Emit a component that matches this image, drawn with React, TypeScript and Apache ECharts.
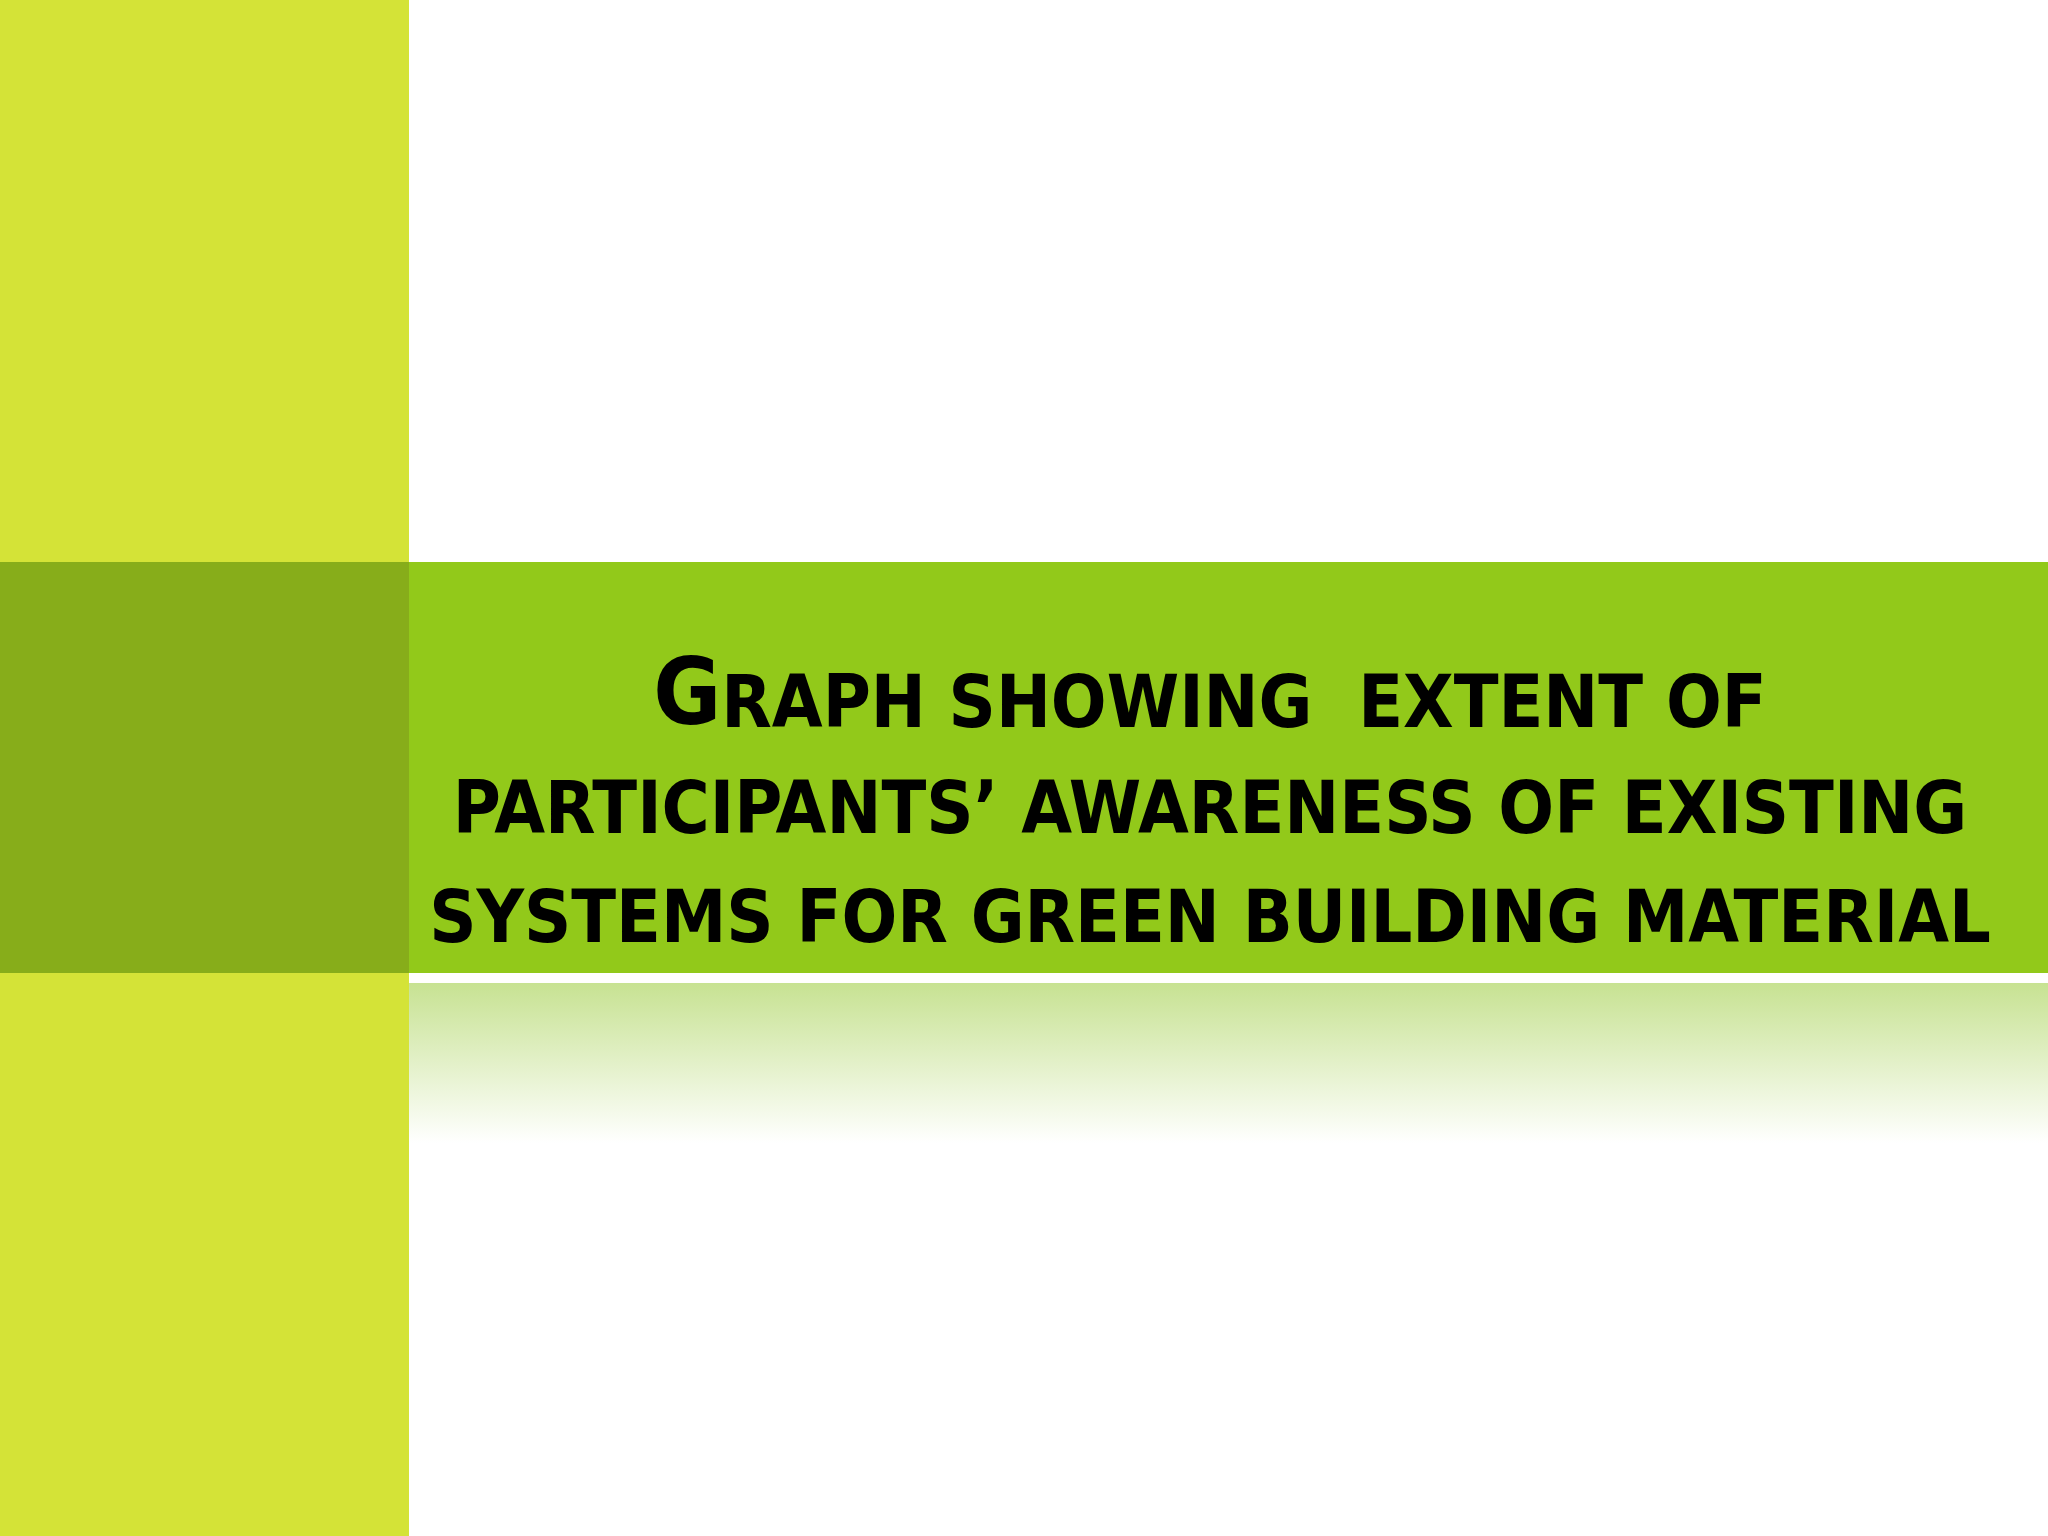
import React, { useEffect, useRef } from 'react';
import * as echarts from 'echarts';

// title lines (small caps in the slide, drawn as capitals)
const titleInitial = 'G';
const titleLines = [
  'RAPH SHOWING  EXTENT OF',
  'PARTICIPANTS\u2019 AWARENESS OF EXISTING',
  'SYSTEMS FOR GREEN BUILDING MATERIAL',
];
const lineBaselines = [718, 833, 942];

const FONT = '"DejaVu Sans Condensed", "DejaVu Sans", sans-serif';
const SMALL = 73;
const BIG = 92;

const App: React.FC = () => {
  const chartRef = useRef<HTMLDivElement>(null);

  useEffect(() => {
    const chart = echarts.init(chartRef.current, null, { renderer: 'svg' });

    const textCenter = 1210;

    const titleText = titleLines.map((line, i) => {
      if (i === 0) {
        return {
          type: 'text',
          x: textCenter,
          y: lineBaselines[i] - 0.35 * SMALL,
          style: {
            text: `{g|${titleInitial}}{s|${line}}`,
            align: 'center',
            verticalAlign: 'middle',
            rich: {
              g: { fontSize: BIG, fontFamily: FONT, fontWeight: 'bold', fill: '#000', verticalAlign: 'bottom' },
              s: { fontSize: SMALL, fontFamily: FONT, fontWeight: 'bold', fill: '#000', verticalAlign: 'bottom' },
            },
          },
        };
      }
      return {
        type: 'text',
        x: textCenter,
        y: lineBaselines[i] - 0.35 * SMALL,
        style: {
          text: line,
          align: 'center',
          verticalAlign: 'middle',
          fontSize: SMALL,
          fontFamily: FONT,
          fontWeight: 'bold',
          fill: '#000',
        },
      };
    });

    chart.setOption({
      animation: false,
      backgroundColor: '#ffffff',
      graphic: [
        // left strip
        { type: 'rect', shape: { x: 0, y: 0, width: 409, height: 1536 }, style: { fill: '#D4E337' } },
        // title band
        { type: 'rect', shape: { x: 409, y: 562, width: 1639, height: 411 }, style: { fill: '#92C91A' } },
        { type: 'rect', shape: { x: 0, y: 562, width: 409, height: 411 }, style: { fill: '#87AD1A' } },
        // fading reflection under band
        {
          type: 'rect',
          shape: { x: 409, y: 983, width: 1639, height: 160 },
          style: {
            fill: new echarts.graphic.LinearGradient(0, 0, 0, 1, [
              { offset: 0, color: '#C7E292' },
              { offset: 1, color: '#FFFFFF' },
            ]),
          },
        },
        ...titleText,
      ],
    });

    return () => {
      chart.dispose();
    };
  }, []);

  return (
    <div
      ref={chartRef}
      style={{ position: 'fixed', left: 0, top: 0, width: 2048, height: 1536 }}
    />
  );
};

export default App;
